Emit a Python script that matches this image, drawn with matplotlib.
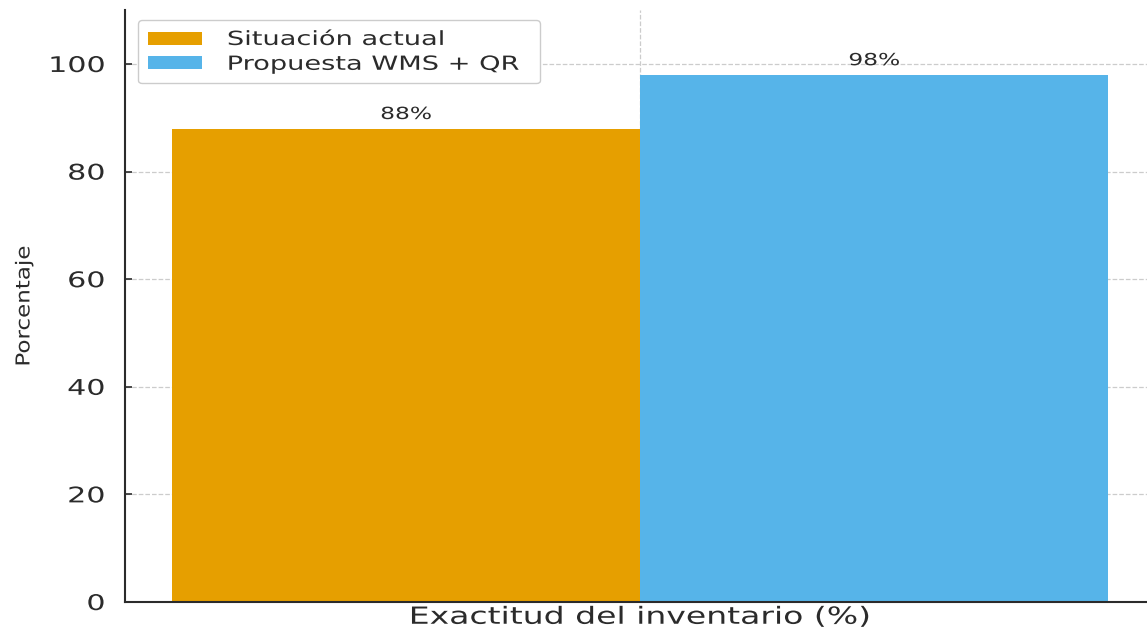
import matplotlib
matplotlib.use("Agg")
from matplotlib import pyplot as plt
from matplotlib.patheffects import AbstractPathEffect
from matplotlib.transforms import Affine2D
import numpy as np

plt.rcParams["font.family"] = ["DejaVu Sans"]

# Datos
categorias = ["Exactitud del inventario (%)"]
series = ["Situación actual", "Propuesta WMS + QR"]
actual = [88]
propuesta = [98]
colores = ["#E69F00", "#56B4E9"]

TEXTO = "#2b2b2b"
SX = 1.4  # la imagen original esta estirada a lo ancho


# Estira el texto en pantalla alrededor de un borde o del centro
class Estirar(AbstractPathEffect):
    def __init__(self, sx=1.0, sy=1.0, ancla="center"):
        super().__init__()
        self.sx, self.sy, self.ancla = sx, sy, ancla

    def draw_path(self, renderer, gc, tpath, affine, rgbFace=None):
        ext = tpath.get_extents(affine)
        if self.ancla == "left":
            cx = ext.x0
        elif self.ancla == "right":
            cx = ext.x1
        else:
            cx = (ext.x0 + ext.x1) / 2
        cy = (ext.y0 + ext.y1) / 2
        t = affine + Affine2D().translate(-cx, -cy).scale(self.sx, self.sy).translate(cx, cy)
        renderer.draw_path(gc, tpath, t, rgbFace)


fig = plt.figure(figsize=(11.47, 6.35), dpi=100)
ax = fig.add_axes([0.109, 0.052, 0.898, 0.932])

x = np.arange(len(categorias))
w = 0.35
b1 = ax.bar(x - w / 2, actual, w, color=colores[0], label=series[0], zorder=2)
b2 = ax.bar(x + w / 2, propuesta, w, color=colores[1], label=series[1], zorder=2)

for barras in (b1, b2):
    for r in barras:
        ax.annotate(f"{r.get_height():.0f}%",
                    (r.get_x() + r.get_width() / 2, r.get_height()),
                    xytext=(0, 4), textcoords="offset points",
                    ha="center", va="bottom", fontsize=12, color=TEXTO,
                    path_effects=[Estirar(SX)])

ax.set_ylim(0, 110)
ax.set_yticks([0, 20, 40, 60, 80, 100])
ax.set_xticks(x)
ax.set_xticklabels(categorias, fontsize=17, color=TEXTO)
ax.set_ylabel("Porcentaje", fontsize=13.8, color=TEXTO, labelpad=22,
              path_effects=[Estirar(1.0, 1.2)])

ax.tick_params(axis="y", labelsize=15.5, labelcolor=TEXTO, direction="in",
               length=5, width=1.2, color=TEXTO, pad=14.5)
ax.tick_params(axis="x", direction="in", length=4, width=1, color=TEXTO, pad=2)

for t in ax.get_yticklabels():
    t.set_path_effects([Estirar(SX, 1.0, "right")])
for t in ax.get_xticklabels():
    t.set_path_effects([Estirar(SX)])

for s in ("top", "right"):
    ax.spines[s].set_visible(False)
for s in ("left", "bottom"):
    ax.spines[s].set_color(TEXTO)
    ax.spines[s].set_linewidth(1.5)

ax.grid(True, linestyle="--", color="#cccccc", linewidth=0.9, zorder=0)
ax.set_axisbelow(True)

leg = ax.legend(loc="upper left", bbox_to_anchor=(0.0126, 0.883, 0.39, 0.1),
                mode="expand", borderaxespad=0, fontsize=14, frameon=True,
                fancybox=True, edgecolor="#cccccc", framealpha=1,
                handlelength=2.8, handleheight=0.65, labelspacing=0.3,
                handletextpad=1.3, borderpad=0.5)
for t in leg.get_texts():
    t.set_color(TEXTO)
    t.set_path_effects([Estirar(SX, 1.0, "left")])

fig.savefig("out.png", dpi=100)
